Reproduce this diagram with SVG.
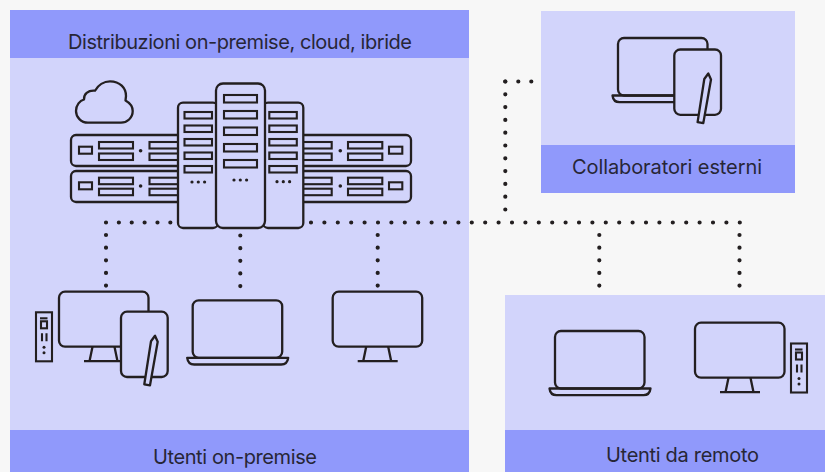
<svg xmlns="http://www.w3.org/2000/svg" xmlns:xlink="http://www.w3.org/1999/xlink" width="825" height="472" viewBox="0 0 825 472">
<style>
.body{fill:#d2d4fb}
.head{fill:#9099fb}
.ln{fill:none;stroke:#231f20;stroke-width:2.300;stroke-linejoin:round}
.fl{fill:#d2d4fb;stroke:#231f20;stroke-width:2.300;stroke-linejoin:round}
.sl{fill:none;stroke:#231f20;stroke-width:2.100}
.d{fill:#231f20}
.dots{fill:none;stroke:#231f20;stroke-width:4.200;stroke-linecap:round}
text{font-family:"Inter","Liberation Sans",sans-serif;font-size:20px;fill:#272636;text-anchor:middle}
</style>
<defs>
<g id="monitor">
<rect class="ln" x="0" y="0" width="89.500" height="55" rx="6"/>
<path class="ln" d="M33.500 55L30.500 69.500M55.500 55L58.500 69.500M25 69.500H65"/>
</g>
<g id="laptop">
<rect class="ln" x="0" y="0" width="89.500" height="57.500" rx="6"/>
<path class="ln" d="M-5.500 57.500H95.500C95 61.500 92.500 64.200 88.500 64.200H1.500C-2.500 64.200 -5 61.500 -5.500 57.500Z"/>
</g>
<g id="tablet">
<rect class="fl" x="0" y="0" width="46.700" height="65.300" rx="6"/>
<path class="fl" d="M34 24L30 29.500L23.300 72.600L29 73.600L36.700 30Z"/>
</g>
<g id="pc">
<rect class="sl" x="0" y="0" width="16" height="49"/>
<path class="sl" d="M4 6H11.500"/>
<rect class="sl" x="5" y="9" width="6" height="7"/>
<path class="sl" d="M6 21V29M10.500 21V29"/>
<circle class="d" cx="8" cy="35" r="1.500"/>
<circle class="d" cx="8" cy="40.500" r="1.500"/>
</g>
<g id="slotdots"><circle class="d" cx="-6.300" cy="0" r="1.600"/><circle class="d" cx="0" cy="0" r="1.600"/><circle class="d" cx="6.300" cy="0" r="1.600"/></g>
</defs>
<rect width="825" height="472" fill="#f7f7f7"/>
<g id="panel-distribuzioni">
<rect class="body" x="10" y="58" width="459" height="372"/>
<rect class="head" x="10" y="10" width="459" height="48"/>
<text x="240" y="48.500" textLength="344" lengthAdjust="spacing">Distribuzioni on-premise, cloud, ibride</text>
</g>
<g id="panel-on-premise">
<rect class="head" x="10" y="430" width="459" height="42"/>
<text x="235" y="464" textLength="164" lengthAdjust="spacing">Utenti on-premise</text>
</g>
<g id="panel-esterni">
<rect class="body" x="541" y="11" width="254" height="134"/>
<rect class="head" x="541" y="145" width="254" height="48"/>
<text x="667" y="174" textLength="190" lengthAdjust="spacing">Collaboratori esterni</text>
</g>
<g id="panel-remoto">
<rect class="body" x="505" y="295" width="320" height="135"/>
<rect class="head" x="505" y="430" width="320" height="42"/>
<text x="682.500" y="462" textLength="153" lengthAdjust="spacing">Utenti da remoto</text>
</g>
<g id="connectors">
<path class="dots" stroke-dasharray="0 12.870" d="M106 222.500H178"/>
<path class="dots" stroke-dasharray="0 13.400" d="M311 222.500H741"/>
<path class="dots" stroke-dasharray="0 12.650" d="M106 235V287M240.300 235.500V287M377.700 235V287M599.300 235V287M739.500 235V287"/>
<path class="dots" stroke-dasharray="0 13" d="M505.300 81.500H532"/>
<path class="dots" stroke-dasharray="0 12.800" d="M505.300 81.500V213"/>
</g>
<g id="cloud">
<path class="ln" d="M88 122.700C81 122.700 76 117 76 111C76 105 80 100.500 84 99.500C83.500 94 88 90 95 90.700C98 85 104 81.300 110 81.300C120 81.300 126 88 126 96L125.500 100.500C130 103 132.700 107 132.700 111C132.700 118 127 122.700 121 122.700Z"/>
</g>
<g id="servers">
<g id="rack-top">
<rect class="ln" x="71" y="135" width="340" height="31" rx="5"/>
<rect class="sl" x="79" y="146.700" width="13" height="7"/>
<rect class="sl" x="99" y="142" width="34" height="6.500"/>
<rect class="sl" x="99" y="153.500" width="34" height="6.500"/>
<circle class="d" cx="140.600" cy="150.700" r="1.800"/>
<rect class="sl" x="149.500" y="142" width="34" height="6.500"/>
<rect class="sl" x="149.500" y="153.500" width="34" height="6.500"/>
<rect class="sl" x="297" y="142" width="34.700" height="6.500"/>
<rect class="sl" x="297" y="153.500" width="34.700" height="6.500"/>
<circle class="d" cx="340.300" cy="150.700" r="1.800"/>
<rect class="sl" x="348" y="142" width="34.300" height="6.500"/>
<rect class="sl" x="348" y="153.500" width="34.300" height="6.500"/>
<rect class="sl" x="389" y="146.700" width="13.300" height="7"/>
</g>
<g id="rack-bottom">
<rect class="ln" x="71" y="171" width="340" height="31" rx="5"/>
<rect class="sl" x="79" y="182.300" width="13" height="7"/>
<rect class="sl" x="99" y="177.700" width="34" height="6.500"/>
<rect class="sl" x="99" y="188.700" width="34" height="6.500"/>
<circle class="d" cx="140.600" cy="186" r="1.800"/>
<rect class="sl" x="149.500" y="177.700" width="34" height="6.500"/>
<rect class="sl" x="149.500" y="188.700" width="34" height="6.500"/>
<rect class="sl" x="297" y="177.700" width="34.700" height="6.500"/>
<rect class="sl" x="297" y="188.700" width="34.700" height="6.500"/>
<circle class="d" cx="340.300" cy="186" r="1.800"/>
<rect class="sl" x="348" y="177.700" width="34.300" height="6.500"/>
<rect class="sl" x="348" y="188.700" width="34.300" height="6.500"/>
<rect class="sl" x="389" y="182.300" width="13.300" height="7"/>
</g>
<g id="tower-left">
<rect class="fl" x="178" y="102.700" width="40" height="125.300" rx="5"/>
<rect class="sl" x="184.500" y="112" width="27.500" height="6.500"/>
<rect class="sl" x="184.500" y="125.500" width="27.500" height="6.500"/>
<rect class="sl" x="184.500" y="139" width="27.500" height="6.500"/>
<rect class="sl" x="184.500" y="152.500" width="27.500" height="6.500"/>
<rect class="sl" x="184.500" y="166" width="27.500" height="6.500"/>
<use href="#slotdots" xlink:href="#slotdots" x="198.300" y="182"/>
</g>
<g id="tower-right">
<rect class="fl" x="263" y="102.700" width="40.300" height="125.300" rx="5"/>
<rect class="sl" x="269.300" y="112" width="27.500" height="6.500"/>
<rect class="sl" x="269.300" y="125.500" width="27.500" height="6.500"/>
<rect class="sl" x="269.300" y="139" width="27.500" height="6.500"/>
<rect class="sl" x="269.300" y="152.500" width="27.500" height="6.500"/>
<rect class="sl" x="269.300" y="166" width="27.500" height="6.500"/>
<use href="#slotdots" xlink:href="#slotdots" x="283.300" y="181.700"/>
</g>
<g id="tower-middle">
<rect class="fl" x="216" y="83.500" width="49" height="144.500" rx="7"/>
<rect class="sl" x="224" y="95" width="33" height="7.500"/>
<rect class="sl" x="224" y="111" width="33" height="7.500"/>
<rect class="sl" x="224" y="127.500" width="33" height="7.500"/>
<rect class="sl" x="224" y="144" width="33" height="7.500"/>
<rect class="sl" x="224" y="160" width="33" height="7.500"/>
<use href="#slotdots" xlink:href="#slotdots" x="240.300" y="180"/>
</g>
</g>
<g id="device-on-premise-1">
<use href="#pc" xlink:href="#pc" x="36" y="312.300"/>
<use href="#monitor" xlink:href="#monitor" x="59" y="291.700"/>
<use href="#tablet" xlink:href="#tablet" x="121" y="311.700"/>
</g>
<g id="device-on-premise-2"><use href="#laptop" xlink:href="#laptop" x="192.700" y="300.300"/></g>
<g id="device-on-premise-3"><use href="#monitor" xlink:href="#monitor" x="332.700" y="291.700"/></g>
<g id="device-esterni">
<use href="#laptop" xlink:href="#laptop" x="618" y="38"/>
<use href="#tablet" xlink:href="#tablet" x="674.300" y="49.500"/>
</g>
<g id="device-remoto-1"><use href="#laptop" xlink:href="#laptop" x="555" y="331"/></g>
<g id="device-remoto-2">
<use href="#monitor" xlink:href="#monitor" x="695" y="322.700"/>
<use href="#pc" xlink:href="#pc" x="791" y="343.500"/>
</g>
</svg>
